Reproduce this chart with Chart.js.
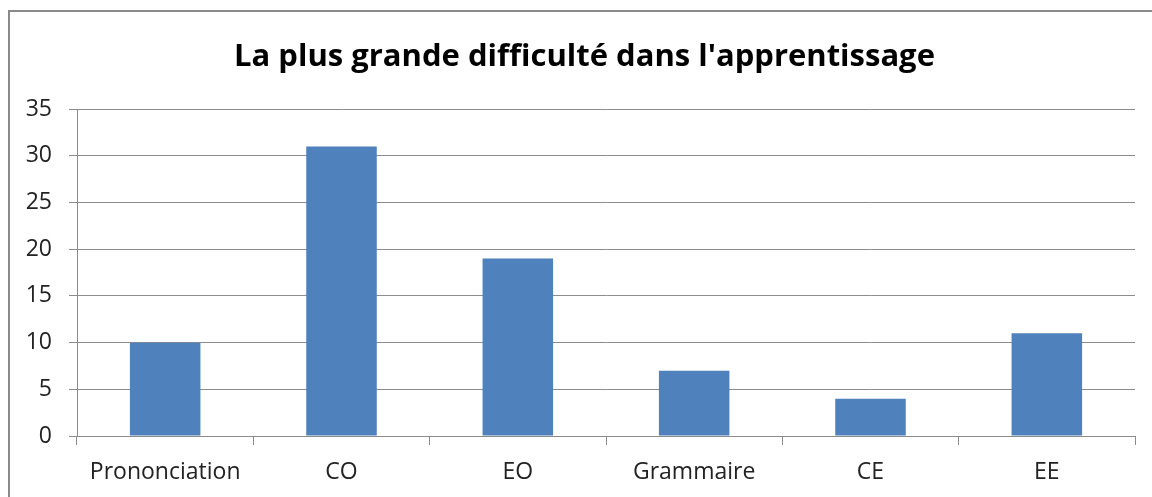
<!DOCTYPE html>
<html>
<head>
<meta charset="utf-8">
<script src="https://cdn.jsdelivr.net/npm/chart.js@4"></script>
<style>
  html, body { margin: 0; padding: 0; background: #fff; }
  #wrap { width: 1152px; height: 497px; }
</style>
</head>
<body>
<div id="wrap"><canvas id="chart"></canvas></div>
<script>
const categories = ["Prononciation", "CO", "EO", "Grammaire", "CE", "EE"];
const values = [10, 31, 19, 7, 4, 11];
const yTicks = [0, 5, 10, 15, 20, 25, 30, 35];
const titleText = "La plus grande difficulté dans l'apprentissage";

const gridGray = "#8c8c8c";
const fontFamily = "'Open Sans', 'Noto Sans', sans-serif";

// frame around the chart (only left and top edges are visible in the picture)
const framePlugin = {
  id: "frame",
  afterLayout(chart) {
    // let the y tick labels use the space left of the padded area
    chart.scales.y.left = 0;
  },
  beforeDraw(chart) {
    const c = chart.ctx;
    c.save();
    c.strokeStyle = "#8a8a8a";
    c.lineWidth = 2;
    c.beginPath();
    c.moveTo(9, chart.height);
    c.lineTo(9, 11);
    c.lineTo(chart.width, 11);
    c.stroke();
    c.restore();
  }
};

const ctx = document.getElementById("chart").getContext("2d");
const chart = new Chart(ctx, {
  type: "bar",
  data: {
    labels: categories,
    datasets: [{
      data: values,
      backgroundColor: "#4F81BD",
      borderWidth: 0,
      barPercentage: 0.4,
      categoryPercentage: 1.0
    }]
  },
  options: {
    responsive: true,
    maintainAspectRatio: false,
    animation: false,
    layout: { padding: { left: 34, right: 17, top: 0, bottom: 0 } },
    plugins: {
      legend: { display: false },
      tooltip: { enabled: false },
      title: {
        display: true,
        text: titleText,
        color: "#000",
        font: { family: fontFamily, size: 31, weight: "bold" },
        padding: { top: 39, bottom: 33 }
      }
    },
    scales: {
      x: {
        grid: {
          display: true,
          drawOnChartArea: false,
          drawTicks: true,
          tickLength: 9,
          color: gridGray,
          lineWidth: 1
        },
        border: { display: true, color: gridGray, width: 1 },
        ticks: {
          color: "#222",
          padding: 14,
          font: { family: fontFamily, size: 23 }
        },
        afterFit(scale) { scale.height = 61; }
      },
      y: {
        min: 0,
        max: 35,
        afterBuildTicks(scale) {
          scale.ticks = yTicks.map(v => ({ value: v }));
        },
        grid: {
          color: gridGray,
          lineWidth: 1,
          tickLength: 8
        },
        border: { display: true, color: gridGray, width: 1 },
        ticks: {
          color: "#222",
          padding: 17,
          font: { family: fontFamily, size: 23 }
        },
        afterFit(scale) { scale.width = 43; }
      }
    }
  },
  plugins: [framePlugin]
});
</script>
</body>
</html>
